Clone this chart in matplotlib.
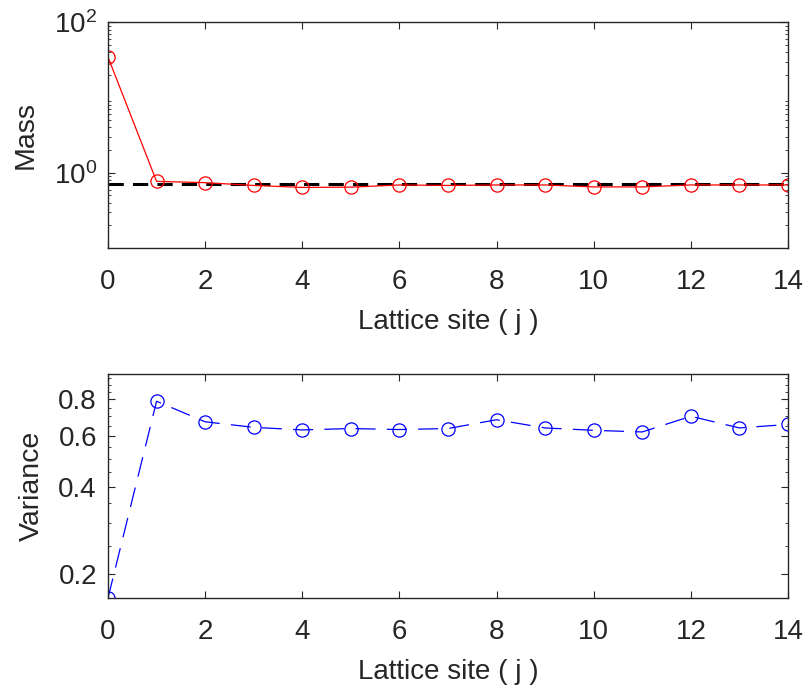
import numpy as np
import matplotlib
matplotlib.use("Agg")
import matplotlib.pyplot as plt
from matplotlib.ticker import FixedLocator, NullFormatter, LogLocator

# datos
sites = list(range(15))
mass = [34.5, 0.77, 0.74, 0.68, 0.64, 0.645, 0.69, 0.68, 0.69, 0.69,
        0.65, 0.65, 0.69, 0.69, 0.69]
mass_ref = 0.715
variance = [0.165, 0.789, 0.67, 0.641, 0.628, 0.635, 0.63, 0.635, 0.681,
            0.638, 0.626, 0.618, 0.70, 0.638, 0.656]
xticks = [0, 2, 4, 6, 8, 10, 12, 14]
var_ticks = [0.2, 0.4, 0.6, 0.8]

plt.rcParams['font.family'] = ['Liberation Sans', 'DejaVu Sans']
plt.rcParams['mathtext.default'] = 'regular'
gray = '#262626'

fig = plt.figure(figsize=(8.09, 6.95), dpi=100)
ax1 = fig.add_axes([0.1335, 0.643, 0.8405, 0.325])
ax2 = fig.add_axes([0.1335, 0.1396, 0.8405, 0.3223])

# masa
ax1.plot(sites, [mass_ref] * len(sites), color='k', lw=2.2, ls=(0, (5, 3)))
ax1.plot(sites, mass, color='red', lw=0.9, marker='o', ms=9.5, mfc='none', mew=0.9)
ax1.set_yscale('log')
ax1.set_ylim(0.1, 100)
ax1.yaxis.set_major_locator(FixedLocator([1, 100]))
ax1.set_yticklabels(['$10^{0}$', '$10^{2}$'])
ax1.yaxis.set_minor_locator(LogLocator(base=10, subs=np.arange(2, 10)))
ax1.yaxis.set_minor_formatter(NullFormatter())
ax1.set_ylabel('Mass', color=gray, fontsize=20.5, labelpad=11)

# varianza
ax2.plot(sites, variance, color='blue', lw=0.9, ls=(0, (16, 9)),
         marker='o', ms=9.5, mfc='none', mew=0.9)
ax2.set_yscale('log')
ax2.set_ylim(0.165, 0.98)
ax2.yaxis.set_major_locator(FixedLocator(var_ticks))
ax2.set_yticklabels([str(v) for v in var_ticks])
ax2.yaxis.set_minor_locator(FixedLocator([0.25, 0.3, 0.35, 0.45, 0.5, 0.55,
                                          0.65, 0.7, 0.75, 0.85, 0.9, 0.95]))
ax2.yaxis.set_minor_formatter(NullFormatter())
ax2.set_ylabel('Variance', color=gray, fontsize=20.5, labelpad=10)

for ax in (ax1, ax2):
    ax.set_xlim(0, 14)
    ax.set_xticks(xticks)
    ax.set_xlabel('Lattice site ( j )', color=gray, fontsize=20, labelpad=10)
    ax.tick_params(which='both', direction='in', top=True, right=True,
                   colors=gray, labelsize=20)
    ax.tick_params(axis='x', pad=15)
    ax.tick_params(axis='y', pad=8)
    ax.tick_params(which='major', length=5)
    ax.tick_params(which='minor', length=2.5)
    for s in ax.spines.values():
        s.set_color(gray)
        s.set_linewidth(1.0)

fig.savefig('out.png', dpi=100)
